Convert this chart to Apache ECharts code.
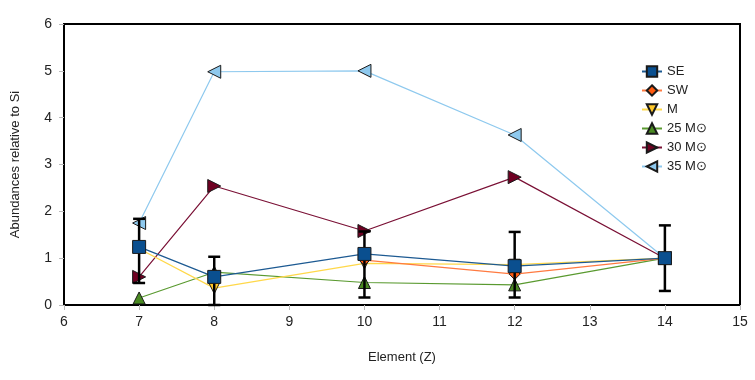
<!DOCTYPE html>
<html>
<head>
<meta charset="utf-8">
<script src="https://cdn.jsdelivr.net/npm/echarts@6/dist/echarts.min.js"></script>
<style>
  html, body { margin: 0; padding: 0; background: #fff; }
  #chart { width: 755px; height: 380px; }
</style>
</head>
<body>
<div id="chart"></div>
<script>
// element numbers (Z)
var elements = [7, 8, 10, 12, 14];

// abundances relative to Si
var se = [1.24, 0.6, 1.09, 0.83, 1.0];
var sw = [null, null, 0.96, 0.66, 1.0];
var mm = [1.2, 0.36, 0.89, 0.86, 1.0];
var m25 = [0.15, 0.7, 0.48, 0.43, 1.0];
var m30 = [0.6, 2.54, 1.58, 2.73, 1.0];
var m35 = [1.75, 4.98, 5.0, 3.63, 1.0];

// SE error bars: low / high
var seLow = [0.47, 0.0, 0.16, 0.16, 0.30];
var seHigh = [1.84, 1.03, 1.57, 1.56, 1.70];

var fontName = 'Liberation Sans';

function pairs(ys) {
    var out = [];
    for (var i = 0; i < elements.length; i++) {
        if (ys[i] != null) out.push([elements[i], ys[i]]);
    }
    return out;
}

//误差棒
function errorData() {
    var out = [];
    for (var i = 0; i < elements.length; i++) {
        out.push([elements[i], seLow[i], seHigh[i]]);
    }
    return out;
}

function renderError(params, api) {
    var lo = api.coord([api.value(0), api.value(1)]);
    var hi = api.coord([api.value(0), api.value(2)]);
    var half = 6;
    var style = { stroke: '#000', lineWidth: 2.5 };
    return {
        type: 'group',
        children: [
            { type: 'line', shape: { x1: hi[0], y1: hi[1], x2: lo[0], y2: lo[1] }, style: style },
            { type: 'line', shape: { x1: hi[0] - half, y1: hi[1], x2: hi[0] + half, y2: hi[1] }, style: style },
            { type: 'line', shape: { x1: lo[0] - half, y1: lo[1], x2: lo[0] + half, y2: lo[1] }, style: style }
        ]
    };
}

function lineSeries(name, data, lineColor, fill, symbol, size, rotate, z) {
    return {
        name: name,
        type: 'line',
        data: pairs(data),
        symbol: symbol,
        symbolSize: size,
        symbolRotate: rotate,
        showAllSymbol: true,
        z: z,
        lineStyle: { color: lineColor, width: 1.2 },
        itemStyle: { color: fill, borderColor: '#1a1a1a', borderWidth: 1 },
        emphasis: { disabled: true },
        animation: false
    };
}

var chart = echarts.init(document.getElementById('chart'));
var option = {
    backgroundColor: '#fff',
    textStyle: { fontFamily: fontName },
    grid: { left: 64, right: 15, top: 24, bottom: 75, show: true, borderColor: '#000', borderWidth: 2 },
    legend: {
        orient: 'vertical',
        left: 636,
        top: 60,
        itemGap: 6,
        itemWidth: 20,
        itemHeight: 13,
        textStyle: { fontSize: 13, color: '#222', fontFamily: fontName },
        data: ['SE', 'SW', 'M', '25 M⊙', '30 M⊙', '35 M⊙']
    },
    xAxis: {
        type: 'value',
        min: 6, max: 15, interval: 1,
        name: 'Element (Z)',
        nameLocation: 'middle',
        nameGap: 46,
        nameTextStyle: { fontSize: 13, color: '#222' },
        axisLine: { show: true, lineStyle: { color: '#000', width: 2 } },
        axisTick: { show: true, length: 5, lineStyle: { color: '#bbb' } },
        axisLabel: { fontSize: 14, color: '#222', margin: 10 },
        splitLine: { show: false }
    },
    yAxis: {
        type: 'value',
        min: 0, max: 6, interval: 1,
        name: 'Abundances relative to Si',
        nameLocation: 'middle',
        nameGap: 42,
        nameTextStyle: { fontSize: 13, color: '#222' },
        axisLine: { show: true, lineStyle: { color: '#000', width: 2 } },
        axisTick: { show: true, length: 5, lineStyle: { color: '#bbb' } },
        axisLabel: { fontSize: 14, color: '#222', margin: 12 },
        splitLine: { show: false }
    },
    series: [
        lineSeries('35 M⊙', m35, '#8ec9ee', '#8ec9ee', 'triangle', 13, 90, 2),
        lineSeries('30 M⊙', m30, '#7a1035', '#6e0022', 'triangle', 13, -90, 3),
        lineSeries('25 M⊙', m25, '#5a9a30', '#4a8a22', 'triangle', 12, 0, 4),
        lineSeries('M', mm, '#ffd84a', '#ffc82a', 'triangle', 11, 180, 5),
        lineSeries('SW', sw, '#ff7a40', '#ff5a10', 'diamond', 11, 0, 6),
        {
            name: 'err',
            type: 'custom',
            data: errorData(),
            renderItem: renderError,
            encode: { x: 0, y: [1, 2] },
            z: 7,
            silent: true,
            animation: false
        },
        lineSeries('SE', se, '#1d5a92', '#0a4f8f', 'rect', 13, 0, 8)
    ]
};
chart.setOption(option);
</script>
</body>
</html>
